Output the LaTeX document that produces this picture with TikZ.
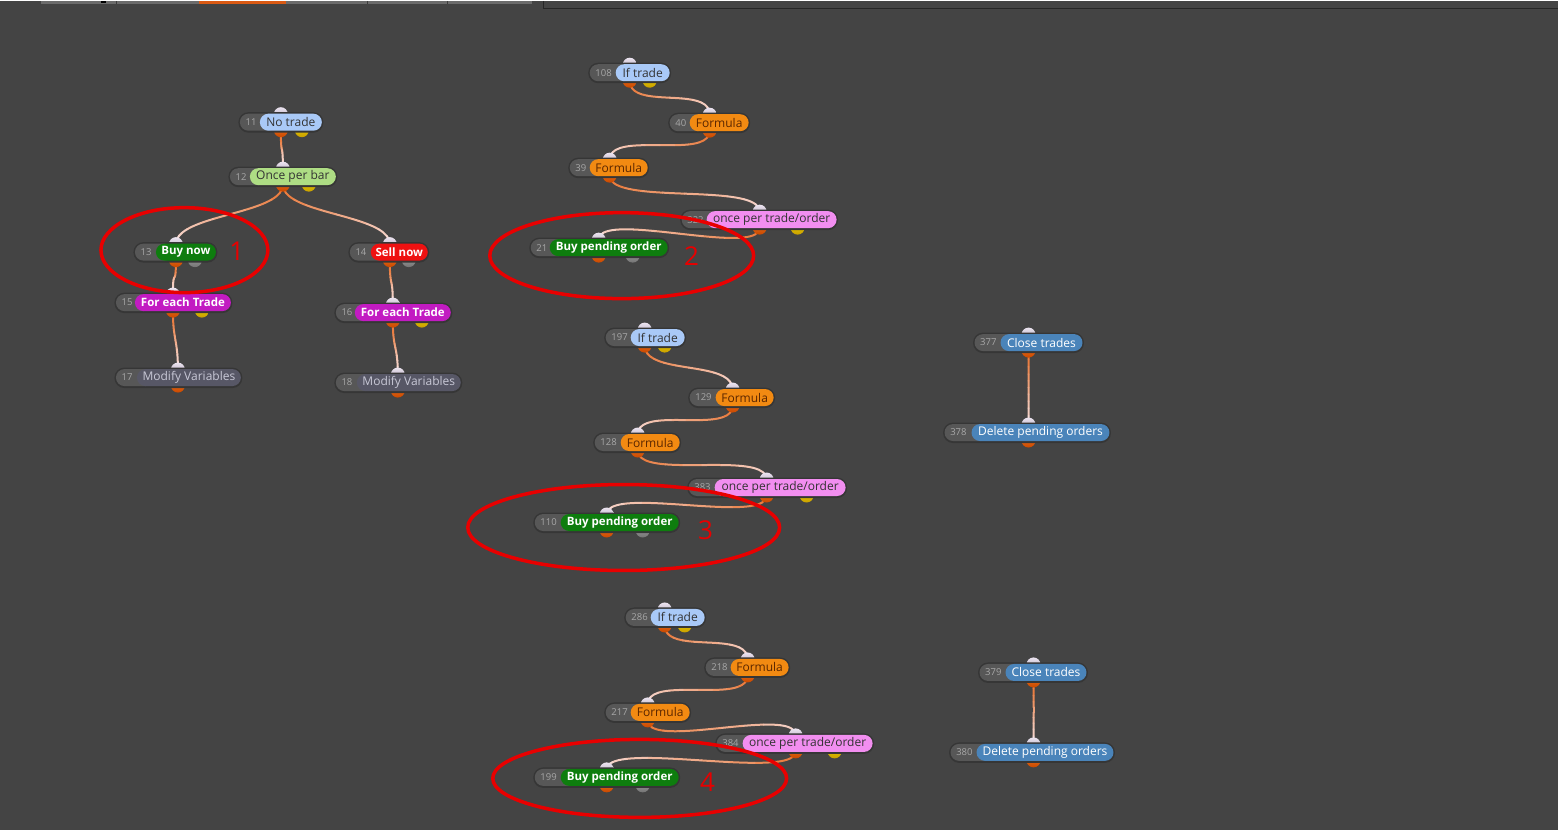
\documentclass[tikz,border=0pt]{standalone}
\usepackage{fontspec}
\setmainfont{Open Sans}
\pgfdeclarelayer{back}
\pgfdeclarelayer{wires}
\pgfdeclarelayer{ports}
\pgfsetlayers{back,wires,ports,main}
\definecolor{bgc}{HTML}{444444}
\definecolor{shadowc}{HTML}{363636}
\definecolor{numc}{HTML}{575757}
\definecolor{numtxtc}{HTML}{A8A8A8}
\definecolor{darktxt}{HTML}{333333}
\definecolor{lbluec}{HTML}{A9C9F7}
\definecolor{lgreenc}{HTML}{AEDD84}
\definecolor{buyc}{HTML}{0E7D0E}
\definecolor{sellc}{HTML}{EE1111}
\definecolor{magc}{HTML}{C21BC2}
\definecolor{modc}{HTML}{575766}
\definecolor{modtxt}{HTML}{C8C8D6}
\definecolor{formc}{HTML}{F28A12}
\definecolor{formtxt}{HTML}{5A2600}
\definecolor{pinkc}{HTML}{F28EF0}
\definecolor{steelc}{HTML}{4A84BA}
\definecolor{portHi}{HTML}{ECE4F0}
\definecolor{portLo}{HTML}{A89CB2}
\definecolor{orHi}{HTML}{F27A22}
\definecolor{orLo}{HTML}{C84800}
\definecolor{yeHi}{HTML}{F2D400}
\definecolor{yeLo}{HTML}{C8A000}
\definecolor{grHi}{HTML}{A8A8A8}
\definecolor{grLo}{HTML}{747474}
\definecolor{wireA}{HTML}{E8722E}
\definecolor{wireB}{HTML}{F6D8D2}
\definecolor{redc}{HTML}{E80000}
\definecolor{barc}{HTML}{6C6C6C}
\definecolor{tabc}{HTML}{DA5A14}
\definecolor{linec}{HTML}{262626}
\tikzset{
  pill/.style={rectangle, rounded corners=8.5pt, minimum height=17pt, inner sep=0pt,
    font=\fontsize{12}{14}\selectfont},
  stLblue/.style={pill, fill=lbluec, text=darktxt},
  stLgreen/.style={pill, fill=lgreenc, text=darktxt},
  stBuy/.style={pill, fill=buyc, text=white, font=\fontsize{11.5}{14}\selectfont\bfseries},
  stSell/.style={pill, fill=sellc, text=white, font=\fontsize{11.5}{14}\selectfont\bfseries},
  stEach/.style={pill, fill=magc, text=white, font=\fontsize{11.5}{14}\selectfont\bfseries},
  stMod/.style={pill, fill=modc, text=modtxt},
  stForm/.style={pill, fill=formc, text=formtxt},
  stPink/.style={pill, fill=pinkc, text=darktxt},
  stSteel/.style={pill, fill=steelc, text=white},
  numtxt/.style={inner sep=0pt, text=numtxtc, font=\fontsize{9.5}{11}\selectfont},
  inport/.style={circle, minimum size=14pt, inner sep=0pt, top color=portHi, bottom color=portLo},
  oport/.style={circle, minimum size=14pt, inner sep=0pt, top color=orHi, bottom color=orLo},
  yport/.style={circle, minimum size=14pt, inner sep=0pt, top color=yeHi, bottom color=yeLo},
  gport/.style={circle, minimum size=14pt, inner sep=0pt, top color=grHi, bottom color=grLo},
  ring/.style={draw=redc, line width=3.5pt},
  marknum/.style={text=redc, font=\fontsize{26}{28}\selectfont},
}
% name, grey left, colour left, colour right, y, number, label, style
\newcommand\blk[8]{%
  \fill[shadowc, rounded corners=10pt] ({#2-1.5},{#5-10}) rectangle ({#4+1.5},{#5+10.5});
  \fill[numc, rounded corners=8.5pt] (#2,{#5-8.5}) rectangle ({#3+17},{#5+8.5});
  \node[numtxt, anchor=west] at ({#2+5.5},#5) {#6};
  \node[#8, minimum width={#4-#3}] (#1) at ({(#3+#4)/2},#5) {#7};
}
\newcommand\iport[3]{\begin{pgfonlayer}{ports}\node[inport] (#1) at (#2,{#3-8}) {};\end{pgfonlayer}}
\newcommand\oport[4]{\begin{pgfonlayer}{ports}\node[#4] (#1) at (#2,{#3+8}) {};\end{pgfonlayer}}
\newcommand\wire[2]{%
  \begin{pgfonlayer}{wires}
  \foreach \k in {0,...,9}{%
    \pgfmathsetmacro\ta{\k/10}%
    \pgfmathsetmacro\tb{(\k+1)/10}%
    \pgfmathtruncatemacro\pc{100-\k*100/9}%
    \colorlet{wtmp}{wireA!\pc!wireB}%
    \pgfsetstrokecolor{wtmp}%
    \pgfsetlinewidth{2pt}%
    \pgfsetroundcap
    \pgfpathcurvebetweentime{\ta}{\tb}%
      {\pgfpointanchor{#1}{center}}%
      {\pgfpointadd{\pgfpointanchor{#1}{center}}{\pgfpoint{0pt}{-30pt}}}%
      {\pgfpointadd{\pgfpointanchor{#2}{center}}{\pgfpoint{0pt}{30pt}}}%
      {\pgfpointanchor{#2}{center}}%
    \pgfusepath{stroke}%
  }
  \end{pgfonlayer}}
\begin{document}
\begin{tikzpicture}[x=1pt,y=-1pt]
\begin{pgfonlayer}{back}
\fill[bgc] (0,0) rectangle (1559,830);
\fill[barc] (41,0) rectangle (532,3.5);
\fill[tabc] (199,0) rectangle (286,3.5);
\fill[black] (101,0) rectangle (106,2.5);
\fill[numc!70!black] (116,0) rectangle (117,3.5);
\fill[numc!70!black] (367,0) rectangle (368,3.5);
\fill[numc!70!black] (447,0) rectangle (448,3.5);
\draw[linec, line width=1.5pt] (544,0) -- (544,7.5) -- (1559,7.5);
\end{pgfonlayer}
\useasboundingbox (0,0) rectangle (1559,830);

% ---- column 1
\blk{n11}{240}{260}{322}{121.5}{11}{No trade}{stLblue}
\iport{n11i}{281}{121.5}\oport{n11o}{281}{121.5}{oport}\oport{n11y}{302}{121.5}{yport}
\blk{n12}{230}{250}{336}{176}{12}{Once per bar}{stLgreen}
\iport{n12i}{283}{176}\oport{n12o}{283}{176}{oport}\oport{n12y}{309}{176}{yport}
\blk{n13}{135}{156}{216}{251.5}{13}{Buy now}{stBuy}
\iport{n13i}{176}{251.5}\oport{n13o}{176}{251.5}{oport}\oport{n13g}{195}{251.5}{gport}
\blk{n14}{350}{371}{428}{251.5}{14}{Sell now}{stSell}
\iport{n14i}{390}{251.5}\oport{n14o}{390}{251.5}{oport}\oport{n14g}{409}{251.5}{gport}
\blk{n15}{116}{135}{231}{302}{15}{For each Trade}{stEach}
\iport{n15i}{173}{302}\oport{n15o}{173}{302}{oport}\oport{n15y}{202}{302}{yport}
\blk{n16}{336}{355}{451}{312}{16}{For each Trade}{stEach}
\iport{n16i}{393}{312}\oport{n16o}{393}{312}{oport}\oport{n16y}{422}{312}{yport}
\blk{n17}{116}{137}{241}{377}{17}{Modify Variables}{stMod}
\iport{n17i}{178}{377}\oport{n17o}{178}{377}{oport}
\blk{n18}{336}{357}{461}{382}{18}{Modify Variables}{stMod}
\iport{n18i}{398}{382}\oport{n18o}{398}{382}{oport}

% ---- column 2, group 1
\blk{n108}{590}{616}{670}{72}{108}{If trade}{stLblue}
\iport{n108i}{630}{72}\oport{n108o}{630}{72}{oport}\oport{n108y}{650}{72}{yport}
\blk{n40}{670}{690}{749}{122}{40}{Formula}{stForm}
\iport{n40i}{710}{122}\oport{n40o}{710}{122}{oport}
\blk{n39}{570}{590}{648}{167}{39}{Formula}{stForm}
\iport{n39i}{610}{167}\oport{n39o}{610}{167}{oport}
\blk{n322}{682}{707}{837}{219}{322}{once per trade/order}{stPink}
\iport{n322i}{760}{219}\oport{n322o}{760}{219}{oport}\oport{n322y}{798}{219}{yport}
\blk{n21}{531}{550}{668}{247}{21}{Buy pending order}{stBuy}
\iport{n21i}{599}{247}\oport{n21o}{599}{247}{oport}\oport{n21g}{633}{247}{gport}

% ---- column 2, group 2
\blk{n197}{606}{631}{685}{337}{197}{If trade}{stLblue}
\iport{n197i}{645}{337}\oport{n197o}{645}{337}{oport}\oport{n197y}{665}{337}{yport}
\blk{n129}{690}{716}{774}{397}{129}{Formula}{stForm}
\iport{n129i}{733}{397}\oport{n129o}{733}{397}{oport}
\blk{n128}{595}{621}{680}{442}{128}{Formula}{stForm}
\iport{n128i}{638}{442}\oport{n128o}{638}{442}{oport}
\blk{n383}{689}{715}{846}{487}{383}{once per trade/order}{stPink}
\iport{n383i}{767}{487}\oport{n383o}{767}{487}{oport}\oport{n383y}{807}{487}{yport}
\blk{n110}{535}{561}{679}{522}{110}{Buy pending order}{stBuy}
\iport{n110i}{607}{522}\oport{n110o}{607}{522}{oport}\oport{n110g}{643}{522}{gport}

% ---- column 2, group 3
\blk{n286}{626}{651}{705}{617}{286}{If trade}{stLblue}
\iport{n286i}{665}{617}\oport{n286o}{665}{617}{oport}\oport{n286y}{685}{617}{yport}
\blk{n218}{706}{731}{789}{667}{218}{Formula}{stForm}
\iport{n218i}{748}{667}\oport{n218o}{748}{667}{oport}
\blk{n217}{606}{631}{690}{712}{217}{Formula}{stForm}
\iport{n217i}{648}{712}\oport{n217o}{648}{712}{oport}
\blk{n384}{717}{743}{873}{743}{384}{once per trade/order}{stPink}
\iport{n384i}{796}{743}\oport{n384o}{796}{743}{oport}\oport{n384y}{835}{743}{yport}
\blk{n199}{535}{561}{679}{777}{199}{Buy pending order}{stBuy}
\iport{n199i}{607}{777}\oport{n199o}{607}{777}{oport}\oport{n199g}{643}{777}{gport}

% ---- column 3
\blk{n377}{975}{1001}{1083}{342}{377}{Close trades}{stSteel}
\iport{n377i}{1029}{342}\oport{n377o}{1029}{342}{oport}
\blk{n378}{945}{972}{1110}{432}{378}{Delete pending orders}{stSteel}
\iport{n378i}{1029}{432}\oport{n378o}{1029}{432}{oport}
\blk{n379}{980}{1006}{1087}{672}{379}{Close trades}{stSteel}
\iport{n379i}{1034}{672}\oport{n379o}{1034}{672}{oport}
\blk{n380}{951}{977}{1114}{752}{380}{Delete pending orders}{stSteel}
\iport{n380i}{1034}{752}\oport{n380o}{1034}{752}{oport}

% ---- wires
\wire{n11o}{n12i}
\wire{n12o}{n13i}
\wire{n12o}{n14i}
\wire{n13o}{n15i}
\wire{n14o}{n16i}
\wire{n15o}{n17i}
\wire{n16o}{n18i}
\wire{n108o}{n40i}
\wire{n40o}{n39i}
\wire{n39o}{n322i}
\wire{n322o}{n21i}
\wire{n197o}{n129i}
\wire{n129o}{n128i}
\wire{n128o}{n383i}
\wire{n383o}{n110i}
\wire{n286o}{n218i}
\wire{n218o}{n217i}
\wire{n217o}{n384i}
\wire{n384o}{n199i}
\wire{n377o}{n378i}
\wire{n379o}{n380i}

% ---- red annotations
\draw[ring] (184.5,249.5) ellipse [x radius=83.5pt, y radius=42.5pt];
\draw[ring] (622,255) ellipse [x radius=132pt, y radius=43pt];
\draw[ring] (624,527) ellipse [x radius=156pt, y radius=43pt];
\draw[ring] (640,778) ellipse [x radius=147pt, y radius=39pt];
\node[marknum] (m1) at (237,251) {1};
\node[marknum] (m2) at (692,255) {2};
\node[marknum] (m3) at (706,530) {3};
\node[marknum] (m4) at (708,782) {4};
\end{tikzpicture}
\end{document}
